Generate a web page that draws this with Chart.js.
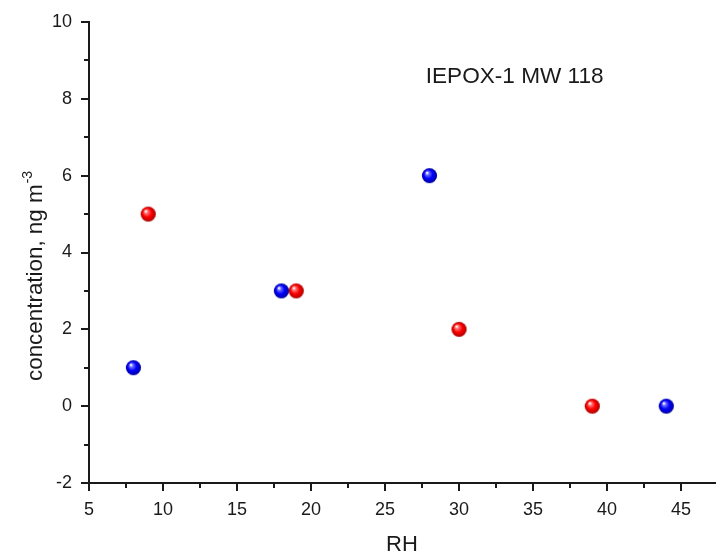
<!DOCTYPE html>
<html>
<head>
<meta charset="utf-8">
<script src="https://cdn.jsdelivr.net/npm/chart.js@4.4.1/dist/chart.umd.min.js"></script>
<style>
  body { margin: 0; background: #fff; }
  #wrap { width: 716px; height: 557px; }
</style>
</head>
<body>
<div id="wrap"><canvas id="myChart" width="716" height="557"></canvas></div>
<script>
// data
const blueRH   = [8, 18, 28, 44];
const blueConc = [1, 3, 6, 0];
const redRH    = [9, 19, 30, 39];
const redConc  = [5, 3, 2, 0];

const xTicks = [5, 10, 15, 20, 25, 30, 35, 40, 45];
const yTicks = [-2, 0, 2, 4, 6, 8, 10];

const xTitle = 'RH';
const yTitle = 'concentration, ng m';
const yTitleSup = '-3';
const label = 'IEPOX-1 MW 118';

const ink = '#1a1a1a';
const fam = '"Liberation Sans", Arial, sans-serif';

// shaded ball marker like the Origin sphere symbols
function sphere(base, dark){
  const r = 7.6;
  const c = document.createElement('canvas');
  c.width = c.height = 17;
  const g = c.getContext('2d');
  const cx = 8.5, cy = 8.5;
  const grad = g.createRadialGradient(cx - 2.6, cy - 3, 0.5, cx, cy, r);
  grad.addColorStop(0, '#ffffff');
  grad.addColorStop(0.2, base[1]);
  grad.addColorStop(0.55, base[0]);
  grad.addColorStop(1, dark);
  g.fillStyle = grad;
  g.beginPath();
  g.arc(cx, cy, r, 0, Math.PI * 2);
  g.fill();
  return c;
}
const blueBall = sphere(['#0000ff', '#6a6aff'], '#00009a');
const redBall  = sphere(['#ff0000', '#ff7070'], '#a80000');

function toPoints(xs, ys){
  return xs.map((x, i) => ({x: x, y: ys[i]}));
}

function noPad(s){
  s.paddingLeft = 0; s.paddingRight = 0;
  s.paddingTop = 0; s.paddingBottom = 0;
}

// minor/major tick marks + titles + label text
const decor = {
  id: 'decor',
  afterDraw(chart){
    const ctx = chart.ctx;
    const xs = chart.scales.x, ys = chart.scales.y;
    const a = chart.chartArea;
    ctx.save();
    ctx.strokeStyle = ink;
    ctx.lineWidth = 2;
    ctx.beginPath();
    xTicks.forEach(v => {
      const px = Math.round(xs.getPixelForValue(v));
      ctx.moveTo(px, a.bottom); ctx.lineTo(px, a.bottom + 8);
      const m = v + 2.5;
      if (m <= xs.max) {
        const pm = Math.round(xs.getPixelForValue(m));
        ctx.moveTo(pm, a.bottom); ctx.lineTo(pm, a.bottom + 5);
      }
    });
    yTicks.forEach(v => {
      const py = Math.round(ys.getPixelForValue(v));
      ctx.moveTo(a.left, py); ctx.lineTo(a.left - 8, py);
      const m = v + 1;
      if (m <= ys.max) {
        const pm = Math.round(ys.getPixelForValue(m));
        ctx.moveTo(a.left, pm); ctx.lineTo(a.left - 5, pm);
      }
    });
    ctx.stroke();

    ctx.fillStyle = ink;
    ctx.font = '22px ' + fam;
    ctx.textAlign = 'center';
    ctx.textBaseline = 'alphabetic';
    ctx.fillText(xTitle, 402, 551);

    ctx.font = '22.6px ' + fam;
    ctx.textAlign = 'left';
    ctx.textBaseline = 'middle';
    ctx.fillText(label, xs.getPixelForValue(27.75), ys.getPixelForValue(8.58));

    // rotated y title with superscript
    ctx.font = '22.4px ' + fam;
    ctx.translate(42, 381);
    ctx.rotate(-Math.PI / 2);
    ctx.textBaseline = 'alphabetic';
    ctx.fillText(yTitle, 0, 0);
    const w = ctx.measureText(yTitle).width;
    ctx.font = '14px ' + fam;
    ctx.fillText(yTitleSup, w + 1, -10);
    ctx.restore();
  }
};

new Chart('myChart', {
  type: 'scatter',
  data: {
    datasets: [{
      label: 'blue',
      data: toPoints(blueRH, blueConc),
      pointStyle: blueBall,
      pointRadius: 8,
      pointHoverRadius: 8
    },{
      label: 'red',
      data: toPoints(redRH, redConc),
      pointStyle: redBall,
      pointRadius: 8,
      pointHoverRadius: 8
    }]
  },
  plugins: [decor],
  options: {
    responsive: false,
    animation: false,
    layout: {
      autoPadding: false,
      padding: { top: 22, right: 0, left: 0, bottom: 0 }
    },
    plugins: {
      legend: { display: false },
      tooltip: { enabled: false }
    },
    scales: {
      x: {
        type: 'linear',
        min: 5,
        max: 47.36,
        grid: { display: false, drawTicks: false },
        border: { display: true, color: ink, width: 2 },
        afterBuildTicks: s => { s.ticks = xTicks.map(v => ({value: v})); },
        afterFit: s => { s.height = 74; noPad(s); },
        ticks: {
          color: ink,
          padding: 16,
          maxRotation: 0,
          font: { size: 18, family: fam }
        }
      },
      y: {
        min: -2,
        max: 10,
        grid: { display: false, drawTicks: false },
        border: { display: true, color: ink, width: 2 },
        afterBuildTicks: s => { s.ticks = yTicks.map(v => ({value: v})); },
        afterFit: s => { s.width = 89; noPad(s); },
        ticks: {
          color: ink,
          padding: 17,
          font: { size: 18, family: fam }
        }
      }
    }
  }
});
</script>
</body>
</html>
